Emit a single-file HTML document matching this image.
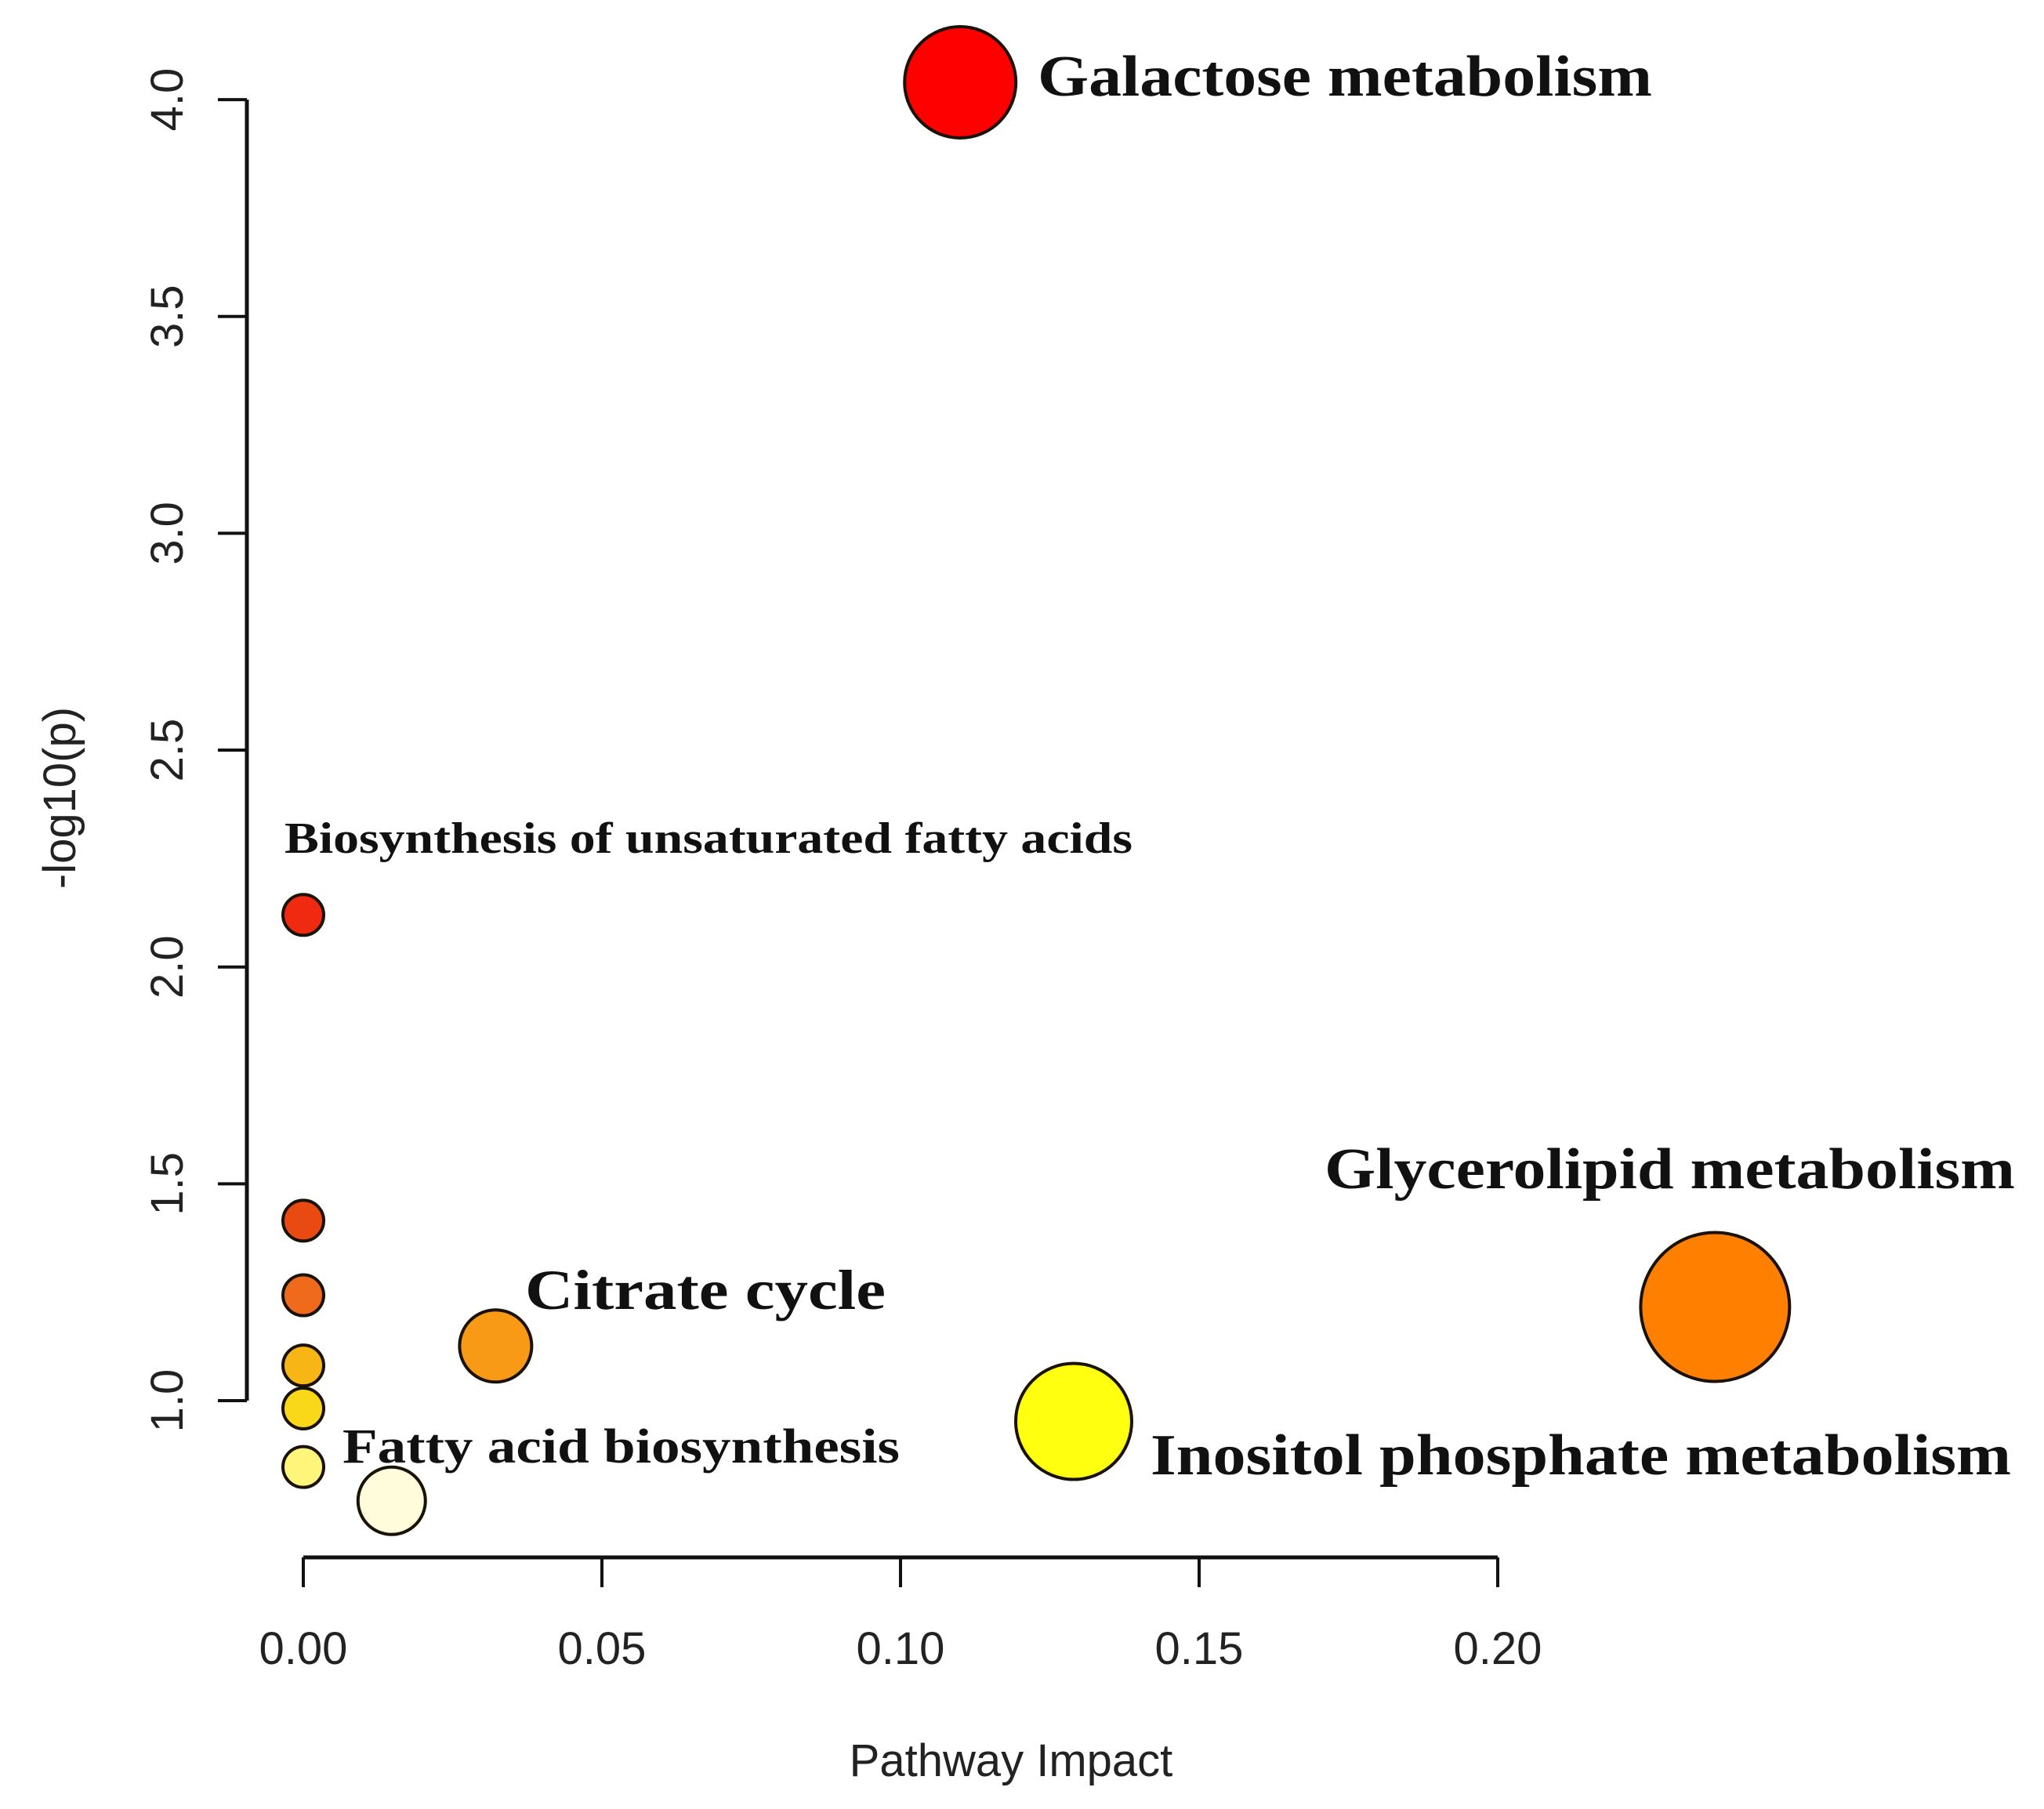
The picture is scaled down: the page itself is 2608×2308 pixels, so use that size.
<!DOCTYPE html>
<html><head><meta charset="utf-8"><style>
html,body{margin:0;padding:0;background:#fff;}
svg{display:block;}
</style></head><body>
<svg id="chart" width="2608" height="2308" viewBox="0 0 2608 2308" xmlns="http://www.w3.org/2000/svg">
<rect width="2608" height="2308" fill="#fff"/>
<g id="axes"></g>
<g id="points"></g>
<g id="labels"></g>
</svg>
<script>
const names = ["Galactose metabolism","Biosynthesis of unsaturated fatty acids","p3","p4","p5","p6","p7","Fatty acid biosynthesis","Citrate cycle","Inositol phosphate metabolism","Glycerolipid metabolism"];
const impact = [0.110,0,0,0,0,0,0,0.0148,0.0322,0.129,0.2364];
const logp = [4.04,2.12,1.415,1.243,1.081,0.982,0.847,0.769,1.126,0.952,1.216];
const radius = [71,26,26,26,26,26,26,43,46,74,95];
const colors = ["#fe0000","#f02a10","#e94a12","#ef6a1a","#f8b616","#f9d81a","#fff57a","#fffcdc","#f99a16","#ffff10","#ff8000"];
const xTicks = [0,0.05,0.10,0.15,0.20];
const xTickLabels = ["0.00","0.05","0.10","0.15","0.20"];
const yTicks = [1.0,1.5,2.0,2.5,3.0,3.5,4.0];
const yTickLabels = ["1.0","1.5","2.0","2.5","3.0","3.5","4.0"];
const labelText = ["Galactose metabolism","Biosynthesis of unsaturated fatty acids","Glycerolipid metabolism","Citrate cycle","Fatty acid biosynthesis","Inositol phosphate metabolism"];

const NS="http://www.w3.org/2000/svg";
function X(v){return 387+v*7620;}
function Y(v){return 1787-(v-1)*553.3;}
function mk(tag,attrs,parent){const e=document.createElementNS(NS,tag);for(const k in attrs)e.setAttribute(k,attrs[k]);parent.appendChild(e);return e;}
const axes=document.getElementById('axes');
const pts=document.getElementById('points');
const labs=document.getElementById('labels');

let xl=mk('line',{x1:X(0),x2:X(0.2),y1:1987,y2:1987,stroke:'#111','stroke-width':5},axes);


xTicks.forEach((t,i)=>{
  const tk=mk('line',{x1:X(t),x2:X(t),y1:1987,y2:2025,stroke:'#111','stroke-width':4},axes);
  
  
  const tl=mk('text',{x:X(t),y:2123,'text-anchor':'middle','font-family':'Liberation Sans, sans-serif','font-size':58,fill:'#222'},axes);
  tl.textContent=xTickLabels[i];
  
  
});
let yl=mk('line',{x1:315,x2:315,y1:Y(1),y2:Y(4),stroke:'#111','stroke-width':5},axes);


yTicks.forEach((t,i)=>{
  const tk=mk('line',{x1:278,x2:315,y1:Y(t),y2:Y(t),stroke:'#111','stroke-width':4},axes);
  
  
  const tl=mk('text',{x:0,y:0,'text-anchor':'middle','font-family':'Liberation Sans, sans-serif','font-size':58,fill:'#222',transform:`translate(233,${Y(t)}) rotate(-90)`},axes);
  tl.textContent=yTickLabels[i];
  
  
});
let xt=mk('text',{x:1290,y:2266,'text-anchor':'middle','font-family':'Liberation Sans, sans-serif','font-size':58,fill:'#222'},axes);
xt.textContent='Pathway Impact';


let yt=mk('text',{x:0,y:0,'text-anchor':'middle','font-family':'Liberation Sans, sans-serif','font-size':58,fill:'#222',transform:'translate(96,1018) rotate(-90)'},axes);
yt.textContent='-log10(p)';



impact.forEach((v,i)=>{
  const c=mk('circle',{cx:X(v),cy:Y(logp[i]),r:radius[i],fill:colors[i],stroke:'#1a1205','stroke-width':4},pts);
  
  
});

const lp=[[1324,122,74,784],[363,1088,56,1082],[1690,1516,74,881],[670,1670,72,460],[437,1866,62,711],[1468,1881,74,1098]];
labelText.forEach((t,i)=>{
  const p=lp[i];
  const e=mk('text',{x:p[0],y:p[1],'font-family':'Liberation Serif, serif','font-weight':'bold','font-size':p[2],fill:'#111',textLength:p[3],lengthAdjust:'spacingAndGlyphs'},labs);
  e.textContent=t;
  
  
});
</script>
</body></html>
